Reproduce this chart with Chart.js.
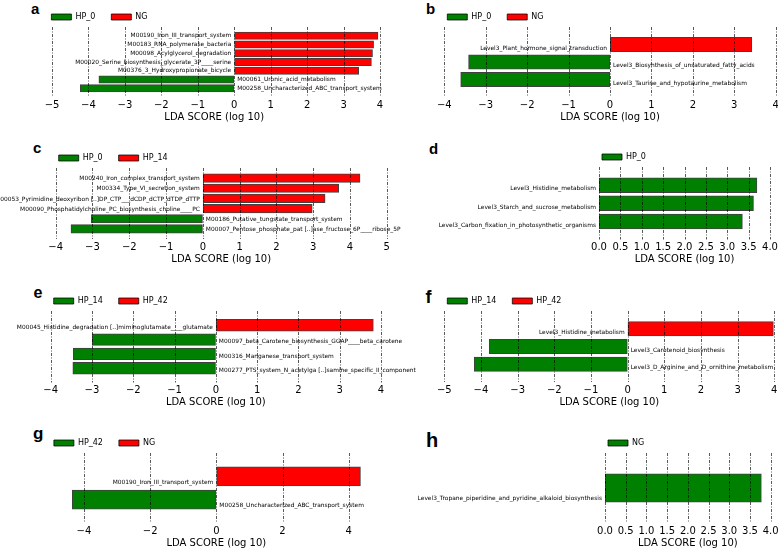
<!DOCTYPE html>
<html>
<head>
<meta charset="utf-8">
<script src="https://cdn.jsdelivr.net/npm/chart.js@4.4.1/dist/chart.umd.min.js"></script>
<style>
html, body { margin: 0; padding: 0; background: #fff; width: 778px; height: 550px; overflow: hidden; }
body { position: relative; }
canvas { position: absolute; left: 0; top: 0; }
.lbl { position: absolute; font-family: "Liberation Sans", Arial, sans-serif; font-weight: bold; color: #000; }
</style>
</head>
<body>
<div class="lbl" style="left:31px;top:0.7px;font-size:15px;line-height:15px">a</div>
<div class="lbl" style="left:426px;top:1.3px;font-size:15px;line-height:15px">b</div>
<div class="lbl" style="left:33px;top:140px;font-size:15px;line-height:15px">c</div>
<div class="lbl" style="left:429px;top:140.6px;font-size:15px;line-height:15px">d</div>
<div class="lbl" style="left:33.5px;top:284.8px;font-size:16px;line-height:16px">e</div>
<div class="lbl" style="left:425.5px;top:288.1px;font-size:18px;line-height:18px">f</div>
<div class="lbl" style="left:33px;top:425.4px;font-size:17px;line-height:17px">g</div>
<div class="lbl" style="left:426px;top:429.8px;font-size:20px;line-height:20px">h</div>
<script>
// ---------------- DATA ----------------
const classesA = ["HP_0", "NG"];
const catsA = [
  "M00190_Iron_III_transport_system",
  "M00183_RNA_polymerase_bacteria",
  "M00098_Acylglycerol_degradation",
  "M00020_Serine_biosynthesis_glycerate_3P____serine",
  "M00376_3_Hydroxypropionate_bicycle",
  "M00061_Uronic_acid_metabolism",
  "M00258_Uncharacterized_ABC_transport_system"
];
const valsA = [3.94, 3.82, 3.79, 3.76, 3.41, -3.71, -4.22];
const ticksA = [-5, -4, -3, -2, -1, 0, 1, 2, 3, 4];
const tickLabelsA = ["\u22125", "\u22124", "\u22123", "\u22122", "\u22121", "0", "1", "2", "3", "4"];

const classesB = ["HP_0", "NG"];
const catsB = [
  "Level3_Plant_hormone_signal_transduction",
  "Level3_Biosynthesis_of_unsaturated_fatty_acids",
  "Level3_Taurine_and_hypotaurine_metabolism"
];
const valsB = [3.42, -3.41, -3.6];
const ticksB = [-4, -3, -2, -1, 0, 1, 2, 3, 4];
const tickLabelsB = ["\u22124", "\u22123", "\u22122", "\u22121", "0", "1", "2", "3", "4"];

const classesC = ["HP_0", "HP_14"];
const catsC = [
  "M00240_Iron_complex_transport_system",
  "M00334_Type_VI_secretion_system",
  "M00053_Pyrimidine_deoxyribon [..]DP_CTP___dCDP_dCTP_dTDP_dTTP",
  "M00090_Phosphatidylcholine_PC_biosynthesis_choline____PC",
  "M00186_Putative_tungstate_transport_system",
  "M00007_Pentose_phosphate_pat [..]ase_fructose_6P____ribose_5P"
];
const valsC = [4.27, 3.69, 3.32, 2.97, -3.03, -3.58];
const ticksC = [-4, -3, -2, -1, 0, 1, 2, 3, 4, 5];
const tickLabelsC = ["\u22124", "\u22123", "\u22122", "\u22121", "0", "1", "2", "3", "4", "5"];

const classesD = ["HP_0"];
const catsD = [
  "Level3_Histidine_metabolism",
  "Level3_Starch_and_sucrose_metabolism",
  "Level3_Carbon_fixation_in_photosynthetic_organisms"
];
const valsD = [3.69, 3.61, 3.35];
const ticksD = [0, 0.5, 1, 1.5, 2, 2.5, 3, 3.5, 4];
const tickLabelsD = ["0.0", "0.5", "1.0", "1.5", "2.0", "2.5", "3.0", "3.5", "4.0"];

const classesE = ["HP_14", "HP_42"];
const catsE = [
  "M00045_Histidine_degradation [..]miminoglutamate____glutamate",
  "M00097_beta_Carotene_biosynthesis_GGAP____beta_carotene",
  "M00316_Manganese_transport_system",
  "M00277_PTS_system_N_acetylga [..]samine_specific_II_component"
];
const valsE = [3.81, -2.99, -3.45, -3.46];
const ticksE = [-4, -3, -2, -1, 0, 1, 2, 3, 4];
const tickLabelsE = ["\u22124", "\u22123", "\u22122", "\u22121", "0", "1", "2", "3", "4"];

const classesF = ["HP_14", "HP_42"];
const catsF = [
  "Level3_Histidine_metabolism",
  "Level3_Carotenoid_biosynthesis",
  "Level3_D_Arginine_and_D_ornithine_metabolism"
];
const valsF = [3.97, -3.77, -4.18];
const ticksF = [-5, -4, -3, -2, -1, 0, 1, 2, 3, 4];
const tickLabelsF = ["\u22125", "\u22124", "\u22123", "\u22122", "\u22121", "0", "1", "2", "3", "4"];

const classesG = ["HP_42", "NG"];
const catsG = [
  "M00190_Iron_III_transport_system",
  "M00258_Uncharacterized_ABC_transport_system"
];
const valsG = [4.35, -4.35];
const ticksG = [-4, -2, 0, 2, 4];
const tickLabelsG = ["\u22124", "\u22122", "0", "2", "4"];

const classesH = ["NG"];
const catsH = ["Level3_Tropane_piperidine_and_pyridine_alkaloid_biosynthesis"];
const valsH = [3.77];
const ticksH = [0, 0.5, 1, 1.5, 2, 2.5, 3, 3.5, 4];
const tickLabelsH = ["0.0", "0.5", "1.0", "1.5", "2.0", "2.5", "3.0", "3.5", "4.0"];

const axisTitle = "LDA SCORE (log 10)";

// ---------------- STYLE / LAYOUT ----------------
const COLORS = ["#008000", "#ff0000"];
const EDGE = "rgba(0,0,0,0.75)";
const FONT = "'DejaVu Sans', 'Bitstream Vera Sans', sans-serif";
Chart.defaults.font.family = FONT;
Chart.defaults.color = "#000";

const panels = [
  { id: "a", cats: catsA, vals: valsA, classes: classesA, ticks: ticksA, tickLabels: tickLabelsA, min: -5.1, max: 4,
    box: { left: 48.4, right: 380, gridTop: 27, gridBottom: 97 } },
  { id: "b", cats: catsB, vals: valsB, classes: classesB, ticks: ticksB, tickLabels: tickLabelsB, min: -4, max: 4,
    box: { left: 444.3, right: 775.7, gridTop: 27, gridBottom: 97 } },
  { id: "c", cats: catsC, vals: valsC, classes: classesC, ticks: ticksC, tickLabels: tickLabelsC, min: -4, max: 5,
    box: { left: 55.7, right: 386.7, gridTop: 168, gridBottom: 239 } },
  { id: "d", cats: catsD, vals: valsD, classes: classesD, ticks: ticksD, tickLabels: tickLabelsD, min: 0, max: 4,
    box: { left: 599, right: 770, gridTop: 167, gridBottom: 239.5 } },
  { id: "e", cats: catsE, vals: valsE, classes: classesE, ticks: ticksE, tickLabels: tickLabelsE, min: -4, max: 4,
    box: { left: 50.7, right: 381, gridTop: 311, gridBottom: 382.5 } },
  { id: "f", cats: catsF, vals: valsF, classes: classesF, ticks: ticksF, tickLabels: tickLabelsF, min: -5, max: 4,
    box: { left: 444.3, right: 774.3, gridTop: 311, gridBottom: 382 } },
  { id: "g", cats: catsG, vals: valsG, classes: classesG, ticks: ticksG, tickLabels: tickLabelsG, min: -5, max: 5,
    box: { left: 50.9, right: 381.8, gridTop: 453, gridBottom: 523 } },
  { id: "h", cats: catsH, vals: valsH, classes: classesH, ticks: ticksH, tickLabels: tickLabelsH, min: 0, max: 4,
    box: { left: 605, right: 770.7, gridTop: 453, gridBottom: 523 } }
];

function buildChart(p) {
  const n = p.cats.length;
  const b = p.box;
  const pitch = (b.gridBottom - b.gridTop) / (n + 1);
  const barsTop = b.gridTop + pitch / 2;
  const barsBottom = b.gridBottom - pitch / 2;
  const tickLen = pitch / 2 + 2;
  const W = 800, H = 550, LEG_H = 20, LEG_PAD = 16;

  const canvas = document.createElement("canvas");
  canvas.width = W; canvas.height = H;
  canvas.style.width = W + "px"; canvas.style.height = H + "px";
  document.body.appendChild(canvas);

  const datasets = p.classes.map((cls, k) => ({
    label: cls,
    data: p.vals.map(v => (p.classes.length === 1 || (v < 0 ? 0 : 1) === k) ? v : null),
    backgroundColor: COLORS[k],
    borderColor: EDGE,
    borderWidth: 1,
    borderSkipped: false,
    inflateAmount: 0.5,
    barPercentage: 0.8,
    categoryPercentage: 1.0
  }));

  const plugin = {
    id: "lefse_" + p.id,
    afterLayout(chart) {
      const lg = chart.legend;
      if (!lg) return;
      const ca = chart.chartArea;
      const cy = b.gridTop - 10;
      lg.left = ca.left + 3 - LEG_PAD;
      lg.right = lg.left + 300;
      lg.top = cy - LEG_PAD - 4;
      lg.bottom = lg.top + 40;
      lg.width = 300; lg.height = 40;
    },
    afterDatasetsDraw(chart) {
      const ctx = chart.ctx, xs = chart.scales.x, ys = chart.scales.y, ca = chart.chartArea;
      const pt = (ca.bottom - ca.top) / n;
      ctx.save();
      ctx.strokeStyle = "rgba(0,0,0,0.65)";
      ctx.lineWidth = 1;
      ctx.setLineDash([3, 1.5, 1, 1.5]);
      xs.ticks.forEach(t => {
        const x = Math.round(xs.getPixelForValue(t.value)) + 0.5;
        ctx.beginPath();
        ctx.moveTo(x, ca.top - pt / 2);
        ctx.lineTo(x, ca.bottom + pt / 2);
        ctx.stroke();
      });
      ctx.setLineDash([]);
      ctx.fillStyle = "#000";
      ctx.font = "5.9px " + FONT;
      ctx.textBaseline = "middle";
      const x0 = xs.getPixelForValue(0);
      chart.data.labels.forEach((lab, i) => {
        const v = p.vals[i];
        const y = ys.getPixelForValue(i) + 0.4 * pt - 3.5;
        if (v >= 0) { ctx.textAlign = "right"; ctx.fillText(lab, x0 - 3, y); }
        else { ctx.textAlign = "left"; ctx.fillText(lab, x0 + 3, y); }
      });
      ctx.restore();
    }
  };

  return new Chart(canvas, {
    type: "bar",
    data: { labels: p.cats, datasets },
    options: {
      indexAxis: "y",
      responsive: false,
      animation: false,
      devicePixelRatio: 1,
      events: [],
      layout: {
        padding: {
          left: b.left,
          right: W - b.right,
          top: barsTop - LEG_H,
          bottom: H - barsBottom - (tickLen + 24)
        }
      },
      plugins: {
        tooltip: { enabled: false },
        legend: {
          display: true,
          position: "top",
          align: "start",
          fullSize: false,
          maxHeight: LEG_H,
          labels: {
            boxWidth: 20,
            boxHeight: 6,
            padding: LEG_PAD,
            color: "#000",
            font: { size: 8, family: FONT }
          }
        }
      },
      scales: {
        y: { type: "category", display: false, stacked: true, offset: true },
        x: {
          type: "linear",
          min: p.min,
          max: p.max,
          stacked: true,
          afterBuildTicks: (scale) => { scale.ticks = p.ticks.map(v => ({ value: v })); },
          border: { display: false },
          grid: { display: true, color: "rgba(0,0,0,0)", drawOnChartArea: false, drawTicks: true, tickLength: tickLen },
          ticks: {
            padding: 0,
            autoSkip: false,
            maxRotation: 0,
            minRotation: 0,
            color: "#000",
            font: { size: 10, family: FONT },
            callback: (v, i) => p.tickLabels[i]
          },
          title: {
            display: true,
            text: axisTitle,
            color: "#000",
            padding: 0,
            font: { size: 10, family: FONT }
          }
        }
      }
    },
    plugins: [plugin]
  });
}

panels.forEach(buildChart);
</script>
</body>
</html>
